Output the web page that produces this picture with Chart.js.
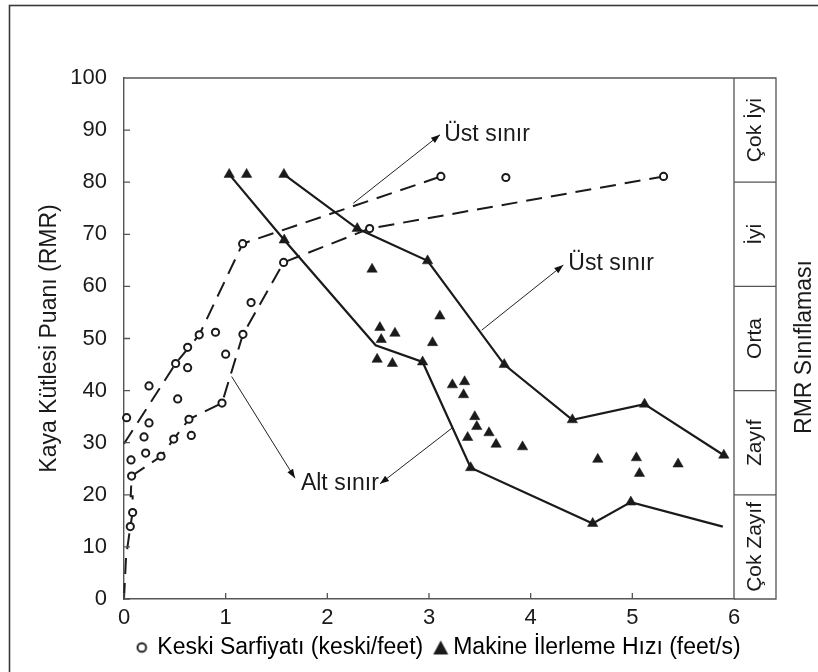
<!DOCTYPE html>
<html>
<head>
<meta charset="utf-8">
<script src="https://cdn.jsdelivr.net/npm/chart.js@4/dist/chart.umd.min.js"></script>
<style>
html,body{margin:0;padding:0;background:#fff;}
canvas{display:block;}
</style>
</head>
<body>
<canvas id="c" width="818" height="672"></canvas>
<script>
// ---------- data ----------
const xTicks = [0, 1, 2, 3, 4, 5, 6];
const yTicks = [0, 10, 20, 30, 40, 50, 60, 70, 80, 90, 100];

// Keski Sarfiyatı (keski/feet) - circles
const keskiX = [0.026, 0.069, 0.075, 0.085, 0.062, 0.246, 0.246, 0.197, 0.213, 0.364, 0.489, 0.508, 0.528, 0.626, 0.626, 0.639, 0.662, 0.74, 0.90, 1.00, 0.964, 1.167, 1.17, 1.25, 1.57, 2.416, 3.117, 3.756, 5.307];
const keskiY = [34.8, 26.7, 23.6, 16.6, 13.9, 40.9, 33.8, 31.1, 28.0, 27.4, 30.7, 45.2, 38.4, 48.3, 44.4, 34.5, 31.4, 50.7, 51.2, 47.0, 37.6, 68.2, 50.8, 56.9, 64.6, 71.1, 81.1, 80.9, 81.1];

// Makine İlerleme Hızı (feet/s) - triangles
const makineX = [1.035, 1.206, 1.573, 1.576, 2.294, 2.44, 2.517, 2.665, 2.53, 2.49, 2.64, 2.937, 2.986, 3.035, 3.107, 3.23, 3.35, 3.34, 3.45, 3.47, 3.38, 3.59, 3.66, 3.41, 3.74, 3.92, 4.41, 4.66, 4.61, 4.985, 5.04, 5.07, 5.12, 5.45, 5.90];
const makineY = [81.5, 81.5, 81.5, 68.9, 71.1, 63.3, 52.1, 51.0, 49.8, 46.0, 45.2, 45.5, 64.9, 49.2, 54.3, 41.1, 41.7, 39.2, 35.0, 33.1, 31.0, 31.9, 29.7, 25.2, 45.0, 29.2, 34.4, 26.8, 14.5, 18.6, 27.1, 24.1, 37.4, 25.9, 27.6];

// boundary lines (dashed: keski, solid: makine)
const keskiUpperX = [0.0, 0.508, 0.74, 1.167, 3.117];
const keskiUpperY = [29.8, 45.2, 50.7, 68.2, 81.1];
const keskiLowerX = [0.0, 0.02, 0.062, 0.085, 0.085, 0.066, 0.075, 0.364, 0.489, 0.639, 0.964, 1.17, 1.57, 2.416, 5.307];
const keskiLowerY = [0.0, 8.0, 13.9, 16.6, 19.7, 19.7, 23.6, 27.4, 30.7, 34.5, 37.6, 50.8, 64.6, 71.1, 81.1];
const makineUpperX = [1.573, 2.294, 2.986, 3.74, 4.41, 5.12, 5.90];
const makineUpperY = [81.5, 71.1, 64.9, 45.0, 34.4, 37.4, 27.6];
const makineLowerX = [1.035, 1.576, 2.475, 2.937, 3.41, 4.61, 4.985, 5.89];
const makineLowerY = [81.5, 68.9, 48.7, 45.5, 25.2, 14.5, 18.6, 13.9];

// RMR classification bands
const rmrClassBounds = [0, 20, 40, 60, 80, 100];
const rmrClassLabels = ['Çok Zayıf', 'Zayıf', 'Orta', 'İyi', 'Çok İyi'];

// text labels
const legendLabels = ['Keski Sarfiyatı (keski/feet)', 'Makine İlerleme Hızı (feet/s)'];
const yTitle = 'Kaya Kütlesi Puanı (RMR)';
const rightTitle = 'RMR Sınıflaması';
// annotation labels with arrows (data coordinates)
const noteTexts = ['Üst sınır', 'Üst sınır', 'Alt sınır'];
const noteTextX = [3.15, 4.37, 1.74];
const noteTextY = [89.2, 64.3, 22.1];
const arrowFromX = [2.255, 3.518, 1.059, 3.226];
const arrowFromY = [75.95, 51.6, 42.7, 32.8];
const arrowToX = [3.108, 4.321, 1.682, 2.518];
const arrowToY = [89.1, 64.1, 23.2, 22.1];

// ---------- helpers ----------
const FONT = "'Liberation Sans', Arial, Helvetica, sans-serif";
const INK = '#1a1a1a';
const pts = (xs, ys) => xs.map((x, i) => ({x: x, y: ys[i]}));

function makeCircleIcon() {
  const c = document.createElement('canvas');
  c.width = 18; c.height = 14;
  const g = c.getContext('2d');
  g.beginPath(); g.arc(11.2, 7, 4.3, 0, Math.PI * 2);
  g.fillStyle = '#fff'; g.fill();
  g.lineWidth = 1.9; g.strokeStyle = INK; g.stroke();
  return c;
}
function makeTriangleIcon() {
  const c = document.createElement('canvas');
  c.width = 30; c.height = 16;
  const g = c.getContext('2d');
  g.beginPath(); g.moveTo(20.25, 1); g.lineTo(27.75, 15); g.lineTo(12.75, 15); g.closePath();
  g.fillStyle = INK; g.fill();
  return c;
}
const circleIcon = makeCircleIcon();
const triangleIcon = makeTriangleIcon();

function drawArrow(ctx, x1, y1, x2, y2) {
  ctx.beginPath(); ctx.moveTo(x1, y1); ctx.lineTo(x2, y2); ctx.stroke();
  const a = Math.atan2(y2 - y1, x2 - x1), L = 9, W = 3.3;
  ctx.beginPath();
  ctx.moveTo(x2, y2);
  ctx.lineTo(x2 - L * Math.cos(a) + W * Math.sin(a), y2 - L * Math.sin(a) - W * Math.cos(a));
  ctx.lineTo(x2 - L * Math.cos(a) - W * Math.sin(a), y2 - L * Math.sin(a) + W * Math.cos(a));
  ctx.closePath(); ctx.fill();
}

const decor = {
  id: 'decor',
  beforeDraw(chart) {
    const ctx = chart.ctx;
    ctx.save(); ctx.fillStyle = '#fff'; ctx.fillRect(0, 0, chart.width, chart.height); ctx.restore();
  },
  afterDatasetsDraw(chart) {
    const {ctx, scales: {x, y}} = chart;
    ctx.save();
    ctx.strokeStyle = '#222'; ctx.fillStyle = '#111'; ctx.lineWidth = 1;
    for (let i = 0; i < arrowFromX.length; i++) {
      drawArrow(ctx, x.getPixelForValue(arrowFromX[i]), y.getPixelForValue(arrowFromY[i]),
                x.getPixelForValue(arrowToX[i]), y.getPixelForValue(arrowToY[i]));
    }
    ctx.fillStyle = INK;
    ctx.font = '23px ' + FONT; ctx.textAlign = 'left'; ctx.textBaseline = 'middle';
    noteTexts.forEach((t, i) => ctx.fillText(t, x.getPixelForValue(noteTextX[i]), y.getPixelForValue(noteTextY[i])));
    ctx.restore();
  },
  afterDraw(chart) {
    const {ctx, chartArea: a, scales: {x, y}} = chart;
    ctx.save();
    // outer frame
    ctx.strokeStyle = '#3a3a3a'; ctx.lineWidth = 1.6;
    ctx.strokeRect(9.5, 5.5, 1000, 1000);
    // plot frame + classification panel
    const panelR = a.right + 42;
    ctx.strokeStyle = '#555'; ctx.lineWidth = 1.3;
    ctx.beginPath();
    ctx.moveTo(a.left, a.top); ctx.lineTo(panelR, a.top); ctx.lineTo(panelR, a.bottom); ctx.lineTo(a.right, a.bottom);
    ctx.moveTo(a.right, a.top); ctx.lineTo(a.right, a.bottom);
    rmrClassBounds.slice(1, -1).forEach(v => { const py = y.getPixelForValue(v); ctx.moveTo(a.right, py); ctx.lineTo(panelR, py); });
    // inward tick marks
    xTicks.forEach(v => { const px = x.getPixelForValue(v); ctx.moveTo(px, a.bottom); ctx.lineTo(px, a.bottom - 6); });
    yTicks.forEach(v => { const py = y.getPixelForValue(v); ctx.moveTo(a.left, py); ctx.lineTo(a.left + 6, py); });
    ctx.stroke();
    // class labels
    ctx.fillStyle = INK; ctx.textAlign = 'center'; ctx.textBaseline = 'middle';
    ctx.font = '21px ' + FONT;
    const cx = (a.right + panelR) / 2;
    rmrClassLabels.forEach((t, i) => {
      const cy = (y.getPixelForValue(rmrClassBounds[i]) + y.getPixelForValue(rmrClassBounds[i + 1])) / 2;
      ctx.save(); ctx.translate(cx, cy); ctx.rotate(-Math.PI / 2); ctx.fillText(t, 0, 0); ctx.restore();
    });
    // right title
    ctx.font = '23px ' + FONT;
    ctx.save(); ctx.translate(805, 347); ctx.rotate(-Math.PI / 2); ctx.fillText(rightTitle, 0, 0); ctx.restore();
    ctx.restore();
  }
};

Chart.defaults.font.family = FONT;
Chart.defaults.color = INK;

new Chart(document.getElementById('c'), {
  type: 'scatter',
  data: {
    datasets: [
      {label: legendLabels[0], data: pts(keskiX, keskiY), pointStyle: 'circle', pointRadius: 3.6, borderWidth: 2,
       borderColor: INK, backgroundColor: '#fff', showLine: false, clip: false},
      {label: legendLabels[1], data: pts(makineX, makineY), pointStyle: 'triangle', pointRadius: 6, borderWidth: 0.5,
       borderColor: INK, backgroundColor: INK, showLine: false, clip: false},
      {label: 'keskiUpper', data: pts(keskiUpperX, keskiUpperY), showLine: true, pointRadius: 0, borderWidth: 2,
       borderColor: INK, borderDash: [16, 9], fill: false, clip: false},
      {label: 'keskiLower', data: pts(keskiLowerX, keskiLowerY), showLine: true, pointRadius: 0, borderWidth: 2,
       borderColor: INK, borderDash: [16, 9], fill: false, clip: false},
      {label: 'makineUpper', data: pts(makineUpperX, makineUpperY), showLine: true, pointRadius: 0, borderWidth: 2.2,
       borderColor: INK, fill: false, clip: false},
      {label: 'makineLower', data: pts(makineLowerX, makineLowerY), showLine: true, pointRadius: 0, borderWidth: 2.2,
       borderColor: INK, fill: false, clip: false}
    ]
  },
  options: {
    responsive: false,
    animation: false,
    events: [],
    layout: {padding: {left: 56.1, top: 78, right: 0, bottom: 3}},
    scales: {
      x: {
        type: 'linear', min: 0, max: 6,
        grid: {display: false, drawTicks: false},
        border: {display: true, color: '#555', width: 1.4},
        ticks: {font: {size: 22}, color: INK, padding: 6, maxRotation: 0},
        afterBuildTicks: s => { s.ticks = xTicks.map(v => ({value: v})); },
        afterFit: s => { s.height = 31; }
      },
      y: {
        type: 'linear', min: 0, max: 100,
        grid: {display: false, drawTicks: false},
        border: {display: true, color: '#555', width: 1.4},
        ticks: {font: {size: 22}, color: INK, padding: 17},
        title: {display: true, text: yTitle, font: {size: 23}, color: INK, padding: {top: -19.9, bottom: 0}},
        afterBuildTicks: s => { s.ticks = yTicks.map(v => ({value: v})); },
        afterFit: s => { s.width = 124 - 56.1; }
      },
      yPanel: {
        type: 'linear', position: 'right', min: 0, max: 100, display: true,
        grid: {display: false, drawTicks: false}, border: {display: false}, ticks: {display: false},
        afterFit: s => { s.width = 84; }
      }
    },
    plugins: {
      title: {display: false},
      tooltip: {enabled: false},
      legend: {
        display: true, position: 'bottom', align: 'center', fullSize: true,
        labels: {
          font: {size: 23}, color: INK, padding: 6, usePointStyle: true, boxWidth: 12.5, boxHeight: 8,
          generateLabels: () => [
            {text: legendLabels[0], pointStyle: circleIcon, datasetIndex: 0, hidden: false, lineWidth: 0, fillStyle: '#fff', strokeStyle: INK},
            {text: legendLabels[1], pointStyle: triangleIcon, datasetIndex: 1, hidden: false, lineWidth: 0, fillStyle: INK, strokeStyle: INK}
          ]
        }
      }
    }
  },
  plugins: [decor]
});
</script>
</body>
</html>
